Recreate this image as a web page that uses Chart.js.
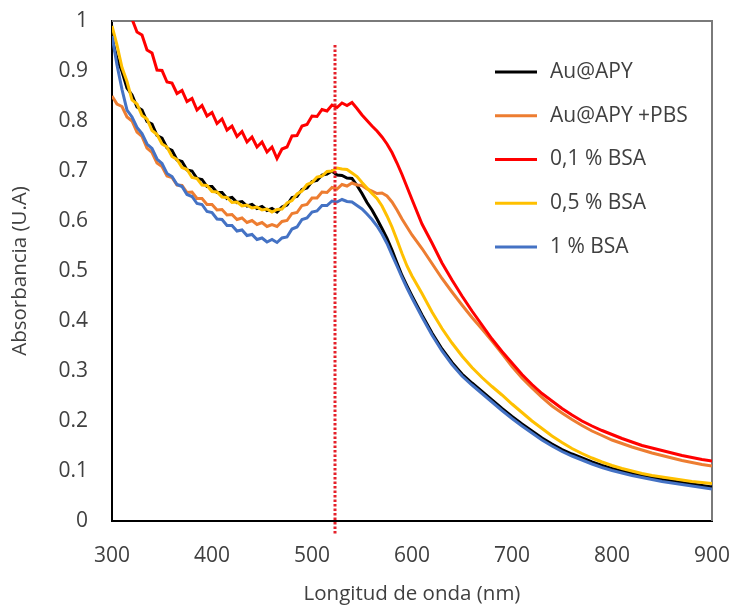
<!DOCTYPE html>
<html>
<head>
<meta charset="utf-8">
<script src="https://cdn.jsdelivr.net/npm/chart.js@4/dist/chart.umd.min.js"></script>
<style>
  html, body { margin: 0; padding: 0; background: #ffffff; }
  #wrap { width: 733px; height: 606px; }
</style>
</head>
<body>
<div id="wrap"><canvas id="spectra" width="733" height="606"></canvas></div>
<script>
// Wavelengths of the recorded UV-Vis points (nm)
const wavelengths = [
  300,305,310,315,320,325,330,335,340,345,350,355,360,365,370,375,380,385,390,395,
  400,405,410,415,420,425,430,435,440,445,450,455,460,465,470,475,480,485,490,495,
  500,505,510,515,520,525,530,535,540,545,550,555,560,565,570,575,580,585,590,595,
  600,610,620,630,640,650,660,670,680,690,700,710,720,730,740,750,760,770,780,790,
  800,810,820,830,840,850,860,870,880,890,900
];

const seriesLabels = ['Au@APY', 'Au@APY +PBS', '0,1 % BSA', '0,5 % BSA', '1 % BSA'];

// Absorbance (U.A) for each sample
const auApy = [
  0.965,0.925,0.899,0.866,0.852,0.828,0.822,0.799,0.794,0.771,0.766,0.746,0.741,0.722,0.719,0.702,0.700,0.685,0.683,0.669,
  0.669,0.657,0.657,0.645,0.647,0.637,0.639,0.630,0.633,0.625,0.629,0.621,0.625,0.618,0.628,0.632,0.647,0.649,0.663,0.666,
  0.679,0.681,0.692,0.694,0.700,0.692,0.691,0.686,0.685,0.671,0.655,0.637,0.622,0.604,0.585,0.565,0.542,0.516,0.491,0.470,
  0.450,0.412,0.376,0.344,0.317,0.294,0.276,0.259,0.242,0.225,0.209,0.194,0.180,0.166,0.154,0.143,0.134,0.126,0.118,0.111,
  0.105,0.100,0.095,0.091,0.087,0.083,0.080,0.077,0.074,0.071,0.068
];
const auApyPbs = [
  0.850,0.834,0.829,0.808,0.800,0.778,0.769,0.746,0.737,0.716,0.709,0.690,0.687,0.672,0.671,0.657,0.658,0.645,0.645,0.633,
  0.633,0.622,0.623,0.612,0.613,0.603,0.606,0.597,0.601,0.593,0.597,0.589,0.593,0.589,0.599,0.601,0.615,0.617,0.631,0.633,
  0.646,0.646,0.658,0.657,0.667,0.664,0.673,0.670,0.676,0.672,0.671,0.664,0.660,0.655,0.656,0.650,0.638,0.622,0.604,0.588,
  0.572,0.545,0.515,0.485,0.458,0.432,0.407,0.384,0.360,0.335,0.309,0.286,0.266,0.247,0.230,0.216,0.203,0.191,0.180,0.171,
  0.162,0.155,0.148,0.142,0.136,0.131,0.126,0.121,0.117,0.113,0.110
];
const bsa01 = [
  1.080,1.052,1.045,1.012,1.004,0.978,0.972,0.942,0.936,0.902,0.901,0.878,0.876,0.855,0.861,0.839,0.845,0.822,0.831,0.810,
  0.817,0.795,0.804,0.782,0.790,0.769,0.779,0.758,0.768,0.748,0.758,0.738,0.748,0.725,0.744,0.748,0.770,0.771,0.790,0.793,
  0.810,0.809,0.823,0.820,0.832,0.827,0.836,0.831,0.837,0.825,0.812,0.801,0.790,0.780,0.768,0.754,0.737,0.716,0.693,0.668,
  0.643,0.594,0.556,0.516,0.482,0.450,0.420,0.392,0.364,0.339,0.316,0.293,0.273,0.255,0.240,0.225,0.212,0.200,0.190,0.181,
  0.173,0.165,0.158,0.151,0.146,0.141,0.136,0.131,0.127,0.123,0.120
];
const bsa05 = [
  0.990,0.952,0.907,0.879,0.842,0.834,0.811,0.804,0.781,0.773,0.754,0.748,0.729,0.723,0.707,0.703,0.687,0.685,0.672,0.671,
  0.659,0.658,0.648,0.647,0.637,0.638,0.630,0.632,0.626,0.628,0.622,0.624,0.618,0.623,0.624,0.636,0.641,0.654,0.660,0.673,
  0.677,0.688,0.690,0.699,0.700,0.706,0.704,0.703,0.696,0.689,0.677,0.666,0.655,0.645,0.630,0.610,0.588,0.562,0.535,0.510,
  0.490,0.455,0.418,0.385,0.356,0.330,0.307,0.287,0.269,0.252,0.234,0.217,0.200,0.185,0.170,0.157,0.145,0.135,0.126,0.118,
  0.111,0.105,0.100,0.095,0.091,0.088,0.085,0.082,0.079,0.077,0.075
];
const bsa1 = [
  0.970,0.912,0.863,0.822,0.808,0.787,0.775,0.754,0.745,0.724,0.715,0.695,0.689,0.673,0.669,0.653,0.649,0.635,0.633,0.619,
  0.617,0.604,0.603,0.591,0.591,0.580,0.582,0.571,0.573,0.563,0.566,0.558,0.563,0.557,0.566,0.568,0.584,0.588,0.603,0.606,
  0.618,0.620,0.631,0.631,0.640,0.638,0.643,0.639,0.638,0.631,0.624,0.614,0.603,0.590,0.574,0.555,0.532,0.510,0.487,0.466,
  0.446,0.408,0.372,0.340,0.313,0.290,0.272,0.255,0.238,0.221,0.205,0.190,0.176,0.162,0.150,0.139,0.130,0.122,0.114,0.107,
  0.101,0.096,0.091,0.087,0.083,0.079,0.076,0.073,0.070,0.067,0.064
];

// Dotted reference line at the plasmon band maximum
const markerWavelength = 523;
const markerSpan = [-0.025, 0.956];

const xTicks = [300, 400, 500, 600, 700, 800, 900];
const yTicks = [0, 0.1, 0.2, 0.3, 0.4, 0.5, 0.6, 0.7, 0.8, 0.9, 1];

const seriesValues = [auApy, auApyPbs, bsa01, bsa05, bsa1];
const seriesColors = ['#000000', '#ED7D31', '#FF0000', '#FFC000', '#4472C4'];
// Drawing stack: first sample at the bottom, last on top
const stackOrder = [5, 4, 3, 2, 1];

const FONT = '"Open Sans", "Liberation Sans", sans-serif';
const TEXT = '#404040';

const datasets = seriesValues.map((vals, i) => ({
  label: seriesLabels[i],
  data: wavelengths.map((w, k) => ({ x: w, y: vals[k] })),
  borderColor: seriesColors[i],
  backgroundColor: seriesColors[i],
  borderWidth: 3,
  pointRadius: 0,
  tension: 0,
  fill: false,
  order: stackOrder[i],
  inLegend: true
}));

datasets.push({
  label: 'marker',
  data: markerSpan.map(v => ({ x: markerWavelength, y: v })),
  borderColor: '#E5202A',
  borderWidth: 3,
  borderDash: [2.5, 2],
  borderCapStyle: 'butt',
  pointRadius: 0,
  fill: false,
  clip: false,
  order: 0,
  inLegend: false
});

// Grey frame on the top and right of the plot area
const plotFrame = {
  id: 'plotFrame',
  beforeDatasetsDraw(chart) {
    const { ctx, chartArea: a } = chart;
    ctx.save();
    ctx.strokeStyle = '#7a7a7a';
    ctx.lineWidth = 2;
    ctx.beginPath();
    ctx.moveTo(a.left, a.top);
    ctx.lineTo(a.right, a.top);
    ctx.lineTo(a.right, a.bottom);
    ctx.stroke();
    ctx.restore();
  }
};

// Legend placed inside the plot, upper right
const insideLegend = {
  id: 'insideLegend',
  afterDatasetsDraw(chart, args, opts) {
    const ctx = chart.ctx;
    ctx.save();
    ctx.font = '21px ' + FONT;
    ctx.textBaseline = 'middle';
    ctx.textAlign = 'left';
    let row = 0;
    chart.data.datasets.forEach(ds => {
      if (!ds.inLegend) return;
      const y = opts.top + row * opts.step;
      ctx.strokeStyle = ds.borderColor;
      ctx.lineWidth = 3;
      ctx.beginPath();
      ctx.moveTo(opts.left, y);
      ctx.lineTo(opts.left + opts.sample, y);
      ctx.stroke();
      ctx.fillStyle = TEXT;
      ctx.fillText(ds.label, opts.left + opts.sample + opts.gap, y);
      row++;
    });
    ctx.restore();
  }
};

new Chart(document.getElementById('spectra'), {
  type: 'line',
  data: { datasets },
  plugins: [plotFrame, insideLegend],
  options: {
    responsive: false,
    animation: false,
    devicePixelRatio: 1,
    layout: { padding: { top: 21, right: 21, left: 0, bottom: 0 } },
    plugins: {
      legend: { display: false },
      tooltip: { enabled: false },
      insideLegend: { left: 495, top: 72, step: 43.75, sample: 42, gap: 13 }
    },
    scales: {
      x: {
        type: 'linear',
        min: 300,
        max: 900,
        afterFit: s => { s.height = 85; s.paddingLeft = 0; s.paddingRight = 0; },
        afterBuildTicks: s => { s.ticks = xTicks.map(v => ({ value: v })); },
        grid: { display: false, drawTicks: false },
        border: { display: true, color: '#000000', width: 2 },
        ticks: { color: TEXT, font: { family: FONT, size: 21 }, padding: 22, maxRotation: 0 },
        title: {
          display: true,
          text: 'Longitud de onda (nm)',
          color: TEXT,
          font: { family: FONT, size: 20.5 },
          padding: { top: 0, bottom: 0 }
        }
      },
      y: {
        type: 'linear',
        min: 0,
        max: 1,
        afterFit: s => { s.width = 112; s.paddingTop = 0; s.paddingBottom = 0; },
        afterBuildTicks: s => { s.ticks = yTicks.map(v => ({ value: v })); },
        grid: { display: false, drawTicks: false },
        border: { display: true, color: '#000000', width: 2 },
        ticks: {
          color: TEXT,
          font: { family: FONT, size: 21 },
          padding: 24,
          callback: v => String(Number(v.toFixed(1)))
        },
        title: {
          display: true,
          text: 'Absorbancia (U.A)',
          color: TEXT,
          font: { family: FONT, size: 20.5 },
          padding: { top: 8, bottom: 0 }
        }
      }
    }
  }
});
</script>
</body>
</html>
